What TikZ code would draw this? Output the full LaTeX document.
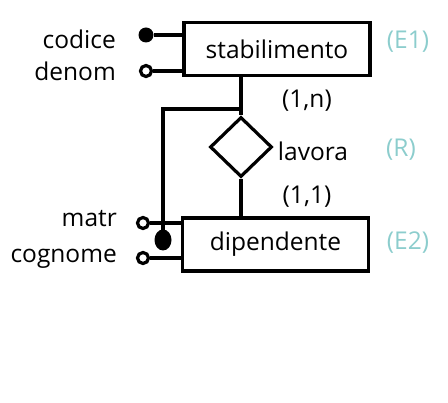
\documentclass[tikz,border=0pt]{standalone}
\usepackage{fontspec}
\setmainfont{Open Sans}
\usetikzlibrary{shapes.geometric}
\definecolor{tealtxt}{RGB}{140,205,205}
\begin{document}
\begin{tikzpicture}[x=1pt,y=-1pt,
  ent/.style={draw,line width=3.2pt,minimum width=186pt,minimum height=53pt,inner sep=0pt,font=\fontsize{24.5}{29}\selectfont},
  rel/.style={draw,diamond,line width=3.2pt,minimum width=62pt,minimum height=60pt,inner sep=0pt},
  lnk/.style={line width=3.2pt},
  lbl/.style={font=\fontsize{24.5}{29}\selectfont,inner sep=0pt},
  tag/.style={font=\fontsize{24.5}{29}\selectfont,text=tealtxt,inner sep=0pt},
  keyfill/.style={circle,fill=black,minimum size=15pt,inner sep=0pt},
  attro/.style={circle,draw,line width=3.2pt,fill=white,minimum size=11pt,inner sep=0pt}
]
\useasboundingbox (0,0) rectangle (448,403);
\node[ent] (E1) at (277,49) {stabilimento};
\node[ent] (E2) at (275.5,244.5) {dipendente};
\node[rel] (R) at (241,147) {};
% attributes of E1
\node[keyfill] (codice) at (146,35) {};
\node[attro] (denom) at (146,71) {};
\coordinate (c1) at (E1.west |- codice);
\coordinate (d1) at (E1.west |- denom);
\draw[lnk] (codice) -- (c1);
\draw[lnk] (denom) -- (d1);
\node[lbl,anchor=east] (lcod) at (116,39) {codice};
\node[lbl,anchor=east] (lden) at (116,71) {denom};
% attributes of E2
\node[attro] (matr) at (143,223) {};
\node[attro] (cogn) at (143,258) {};
\coordinate (m1) at (E2.west |- matr);
\coordinate (g1) at (E2.west |- cogn);
\draw[lnk] (matr) -- (m1);
\draw[lnk] (cogn) -- (g1);
\node[lbl,anchor=east] (lmatr) at (117,219) {matr};
\node[lbl,anchor=east] (lcogn) at (117,259) {cognome};
% relationship links
\draw[lnk] (E1.south -| R.north) -- (R.north);
\draw[lnk] (R.south) -- (R.south |- E2.north);
% external identifier
\coordinate (j) at (241,109);
\coordinate (k) at (163,109);
\node[ellipse,fill=black,minimum width=17pt,minimum height=21pt,inner sep=0pt] (idd) at (163,240) {};
\draw[lnk] (j) -- (k) -- (idd.center);
% labels
\node[lbl] (lrel) at (313,151) {lavora};
\node[lbl] (card1) at (307,101) {(1,n)};
\node[lbl] (card2) at (307,197) {(1,1)};
\node[tag] (t1) at (408,42) {(E1)};
\node[tag] (t2) at (401,150) {(R)};
\node[tag] (t3) at (408,243) {(E2)};
\end{tikzpicture}
\end{document}
